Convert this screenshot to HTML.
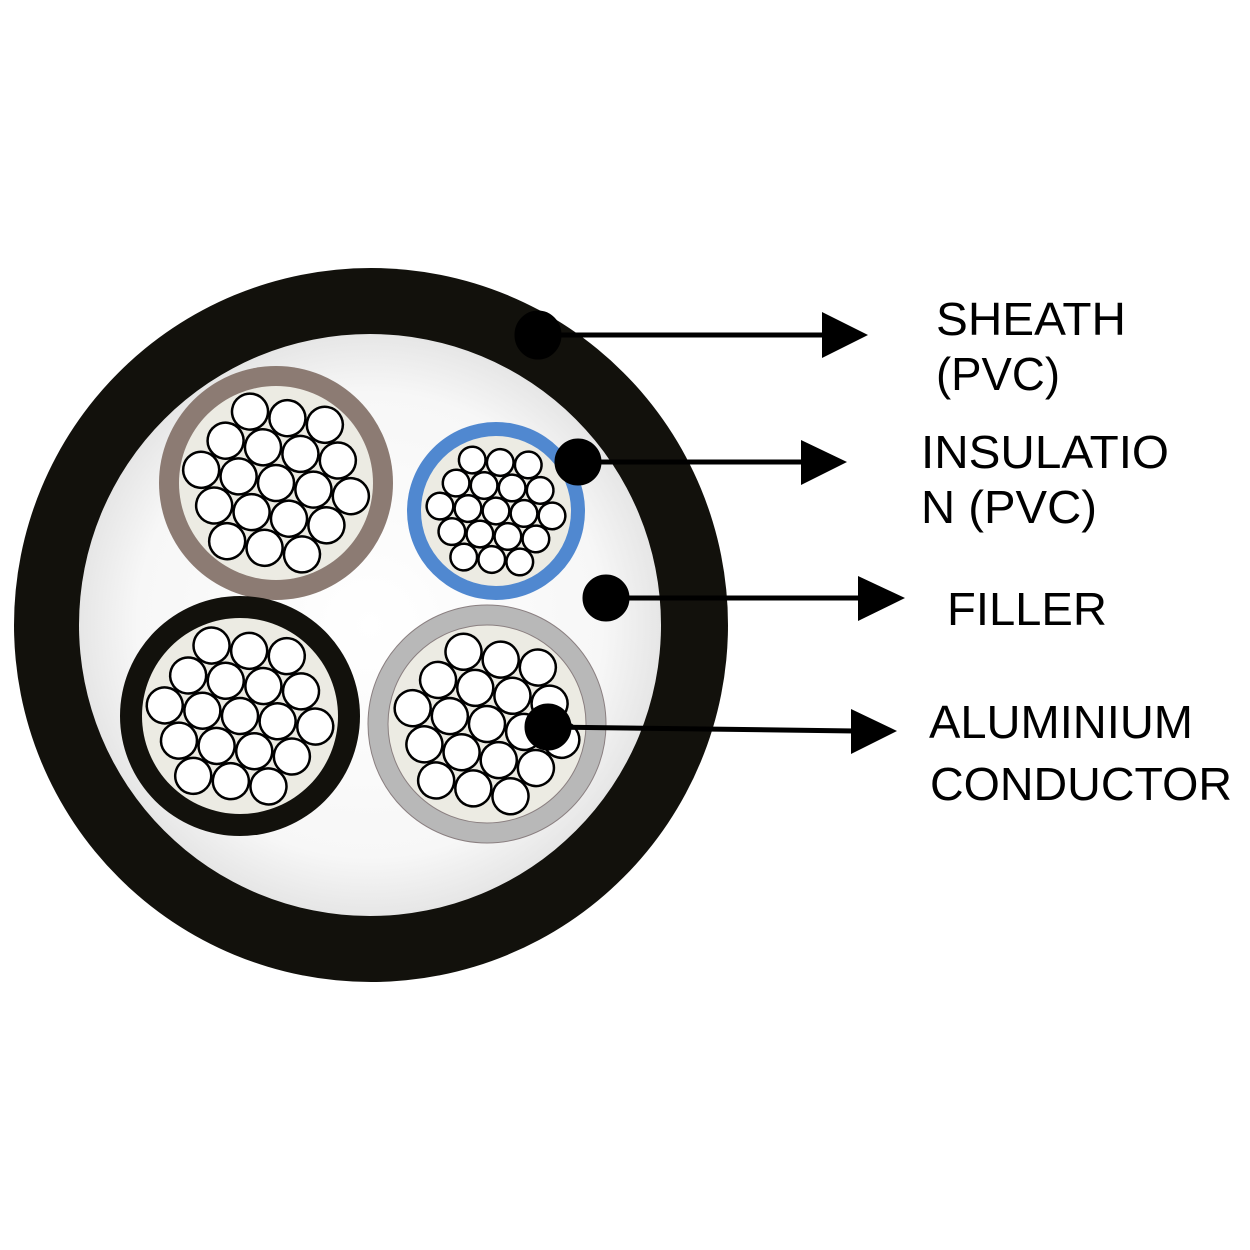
<!DOCTYPE html>
<html><head><meta charset="utf-8"><style>
html,body{margin:0;padding:0;background:#fff;}
svg{display:block}
text{font-family:"Liberation Sans",sans-serif;font-size:46px;fill:#000}
</style></head><body>
<svg width="1250" height="1250" viewBox="0 0 1250 1250" xmlns="http://www.w3.org/2000/svg">
<defs>
<radialGradient id="fill" cx="50%" cy="50%" r="50%">
<stop offset="0" stop-color="#ffffff"/><stop offset="0.8" stop-color="#f7f7f7"/><stop offset="1" stop-color="#e6e6e6"/>
</radialGradient>
<g id="s">
<g fill="#fff" stroke="#000" stroke-width="2.5">
<circle cx="0" cy="0" r="18" vector-effect="non-scaling-stroke"/>
<circle cx="38" cy="0" r="18" vector-effect="non-scaling-stroke"/>
<circle cx="19" cy="32.9" r="18" vector-effect="non-scaling-stroke"/>
<circle cx="-19" cy="32.9" r="18" vector-effect="non-scaling-stroke"/>
<circle cx="-38" cy="0" r="18" vector-effect="non-scaling-stroke"/>
<circle cx="-19" cy="-32.9" r="18" vector-effect="non-scaling-stroke"/>
<circle cx="19" cy="-32.9" r="18" vector-effect="non-scaling-stroke"/>
<circle cx="76" cy="0" r="18" vector-effect="non-scaling-stroke"/>
<circle cx="38" cy="65.8" r="18" vector-effect="non-scaling-stroke"/>
<circle cx="-38" cy="65.8" r="18" vector-effect="non-scaling-stroke"/>
<circle cx="-76" cy="0" r="18" vector-effect="non-scaling-stroke"/>
<circle cx="-38" cy="-65.8" r="18" vector-effect="non-scaling-stroke"/>
<circle cx="38" cy="-65.8" r="18" vector-effect="non-scaling-stroke"/>
<circle cx="57" cy="32.9" r="18" vector-effect="non-scaling-stroke"/>
<circle cx="0" cy="65.8" r="18" vector-effect="non-scaling-stroke"/>
<circle cx="-57" cy="32.9" r="18" vector-effect="non-scaling-stroke"/>
<circle cx="-57" cy="-32.9" r="18" vector-effect="non-scaling-stroke"/>
<circle cx="0" cy="-65.8" r="18" vector-effect="non-scaling-stroke"/>
<circle cx="57" cy="-32.9" r="18" vector-effect="non-scaling-stroke"/>
</g>
</g>
</defs>
<circle cx="371" cy="625" r="357" fill="#12110c"/>
<circle cx="370" cy="625" r="291" fill="url(#fill)"/>
<circle cx="276" cy="483" r="117" fill="#8c7b73"/>
<circle cx="276" cy="483" r="97" fill="#ecebe3"/>
<use href="#s" transform="translate(276,483) rotate(10)"/>
<circle cx="496" cy="511" r="89" fill="#5088d0"/>
<circle cx="496" cy="511" r="75" fill="#ecebe3"/>
<use href="#s" transform="translate(496,511) rotate(5) scale(0.74)"/>
<circle cx="240" cy="716" r="120" fill="#12110c"/>
<circle cx="240" cy="716" r="98" fill="#ecebe3"/>
<use href="#s" transform="translate(240,716) rotate(8)"/>
<circle cx="487" cy="724" r="119" fill="#b8b8b8" stroke="#8a7f80" stroke-width="1"/>
<circle cx="487" cy="724" r="99" fill="#ecebe3" stroke="#8a7f80" stroke-width="1"/>
<use href="#s" transform="translate(487,724) rotate(12)"/>
<g fill="#000" stroke="#000">
<ellipse cx="538" cy="335" rx="23" ry="24"/>
<line x1="538" y1="335" x2="830" y2="335" stroke-width="5"/>
<polygon points="822,312 868,335 822,358" stroke="none"/>
<circle cx="578" cy="462" r="23"/>
<line x1="578" y1="462" x2="805" y2="462" stroke-width="5"/>
<polygon points="801,440 847,462 801,485" stroke="none"/>
<circle cx="606" cy="598" r="23"/>
<line x1="606" y1="598" x2="865" y2="598" stroke-width="5"/>
<polygon points="858,576 905,598 858,621" stroke="none"/>
<circle cx="548" cy="727" r="23"/>
<line x1="548" y1="727" x2="855" y2="731" stroke-width="5"/>
<polygon points="851,709 897,731 851,754" stroke="none"/>
</g>
<text x="936" y="335" textLength="190" lengthAdjust="spacingAndGlyphs">SHEATH</text>
<text x="936" y="390" textLength="124" lengthAdjust="spacingAndGlyphs">(PVC)</text>
<text x="921" y="468" textLength="248" lengthAdjust="spacingAndGlyphs">INSULATIO</text>
<text x="921" y="523" textLength="176" lengthAdjust="spacingAndGlyphs">N (PVC)</text>
<text x="947" y="625" textLength="160" lengthAdjust="spacingAndGlyphs">FILLER</text>
<text x="929" y="738" textLength="264" lengthAdjust="spacingAndGlyphs">ALUMINIUM</text>
<text x="930" y="800" textLength="302" lengthAdjust="spacingAndGlyphs">CONDUCTOR</text>
</svg>
</body></html>
